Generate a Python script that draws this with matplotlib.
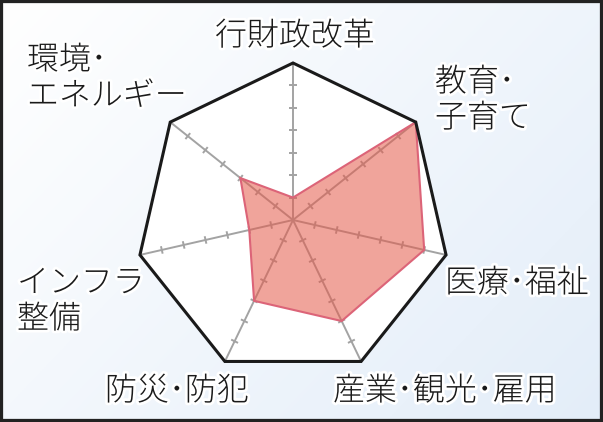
import numpy as np
import matplotlib
matplotlib.use('Agg')
import matplotlib.pyplot as plt
from matplotlib import patheffects as pe
from matplotlib.patches import Polygon, Rectangle

plt.rcParams['font.family'] = ['Noto Sans CJK JP', 'DejaVu Sans']

# データ (7段階評価)
categories = ['行財政改革', '教育･\n子育て', '医療･福祉', '産業･観光･雇用',
              '防災･防犯', 'インフラ\n整備', '環境･\nエネルギー']
values = [1, 7, 6, 5, 4, 2, 3]
max_value = 7
tick_values = [1, 2, 3, 4, 5, 6]

W, H = 603, 422
fig = plt.figure(figsize=(W / 100, H / 100), dpi=100)
ax = fig.add_axes([0, 0, 1, 1])
ax.axis('off')

# レーダーの中心 (ピクセル) と半径
cx, cy, rad = 293, 220, 157
scale = rad / max_value
xlim = (-cx / scale, (W - cx) / scale)
ylim = (-(H - cy) / scale, cy / scale)
ax.set_xlim(*xlim)
ax.set_ylim(*ylim)

# 背景グラデーション
gx, gy = np.meshgrid(np.linspace(0, 1, 300), np.linspace(0, 1, 300))
t = np.clip((gx * 0.6 + gy * 0.4), 0, 1)[..., None]
c0 = np.array([1.0, 1.0, 1.0])
c1 = np.array([0.89, 0.93, 0.975])
ax.imshow(c0 * (1 - t) + c1 * t, extent=(*xlim, *ylim), origin='upper',
          aspect='auto', zorder=0)

n = len(categories)
ang = np.pi / 2 - 2 * np.pi * np.arange(n) / n
ux, uy = np.cos(ang), np.sin(ang)

# 外枠の七角形
outer = np.column_stack([ux * max_value, uy * max_value])
ax.add_patch(Polygon(outer, closed=True, fc='white', ec='none', zorder=1))

# 軸と目盛り
for i in range(n):
    ax.plot([0, ux[i] * max_value], [0, uy[i] * max_value], color='#a3a3a3',
            lw=1.4, zorder=2, solid_capstyle='butt')
    px, py = -uy[i], ux[i]
    for v in tick_values:
        x0, y0 = ux[i] * v, uy[i] * v
        ax.plot([x0 - px * 0.17, x0 + px * 0.17], [y0 - py * 0.17, y0 + py * 0.17],
                color='#a3a3a3', lw=1.4, zorder=2, solid_capstyle='butt')

# データ
vals = np.array(values, dtype=float)
pts = np.column_stack([ux * vals, uy * vals])
ax.add_patch(Polygon(pts, closed=True, fc='#e45a4a', alpha=0.55, ec='none', zorder=3))
ax.add_patch(Polygon(pts, closed=True, fc='none', ec='#dc6478', lw=1.5, zorder=4))

ax.add_patch(Polygon(outer, closed=True, fc='none', ec='#1a1a1a', lw=2.2,
                     joinstyle='miter', zorder=5))

# ラベル (ピクセル位置: 左端 or 中央, 1行目の中心y)
label_pos = [(295, 36, 'center'), (435, 82, 'left'), (445, 283, 'left'),
             (333, 391, 'left'), (105, 391, 'left'), (17, 283, 'left'),
             (27, 60, 'left')]
halo = [pe.withStroke(linewidth=4, foreground='white')]
for lab, (lx, ly, ha) in zip(categories, label_pos):
    for k, line in enumerate(lab.split('\n')):
        ax.text(lx / W, 1 - (ly + k * 36) / H, line, transform=ax.transAxes,
                ha=ha, va='center', fontsize=23, color='#1a1a1a',
                fontweight='light', path_effects=halo, zorder=6)

# 枠線
ax.add_patch(Rectangle((0, 0), 1, 1, transform=ax.transAxes, fill=False,
                       ec='#222222', lw=4.5, clip_on=False, zorder=7))

fig.savefig('out.png', dpi=100)
